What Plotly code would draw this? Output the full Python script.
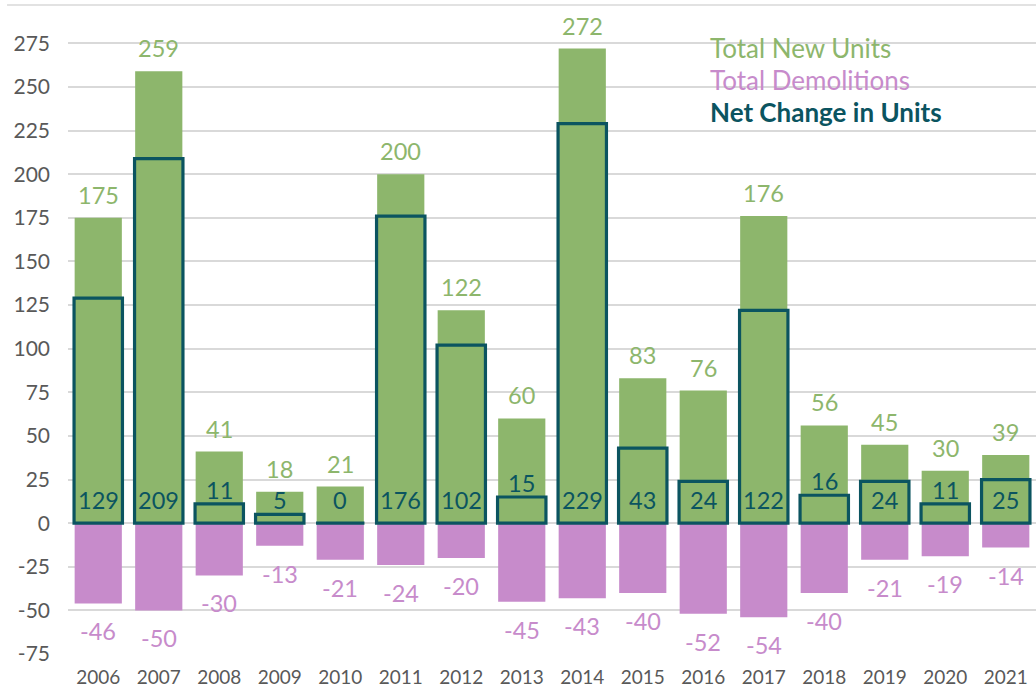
import plotly.graph_objects as go

years = [str(y) for y in range(2006, 2022)]
new_units = [175, 259, 41, 18, 21, 200, 122, 60, 272, 83, 76, 176, 56, 45, 30, 39]
demolitions = [-46, -50, -30, -13, -21, -24, -20, -45, -43, -40, -52, -54, -40, -21, -19, -14]
net_change = [129, 209, 11, 5, 0, 176, 102, 15, 229, 43, 24, 122, 16, 24, 11, 25]
y_ticks = [-75, -50, -25, 0, 25, 50, 75, 100, 125, 150, 175, 200, 225, 250, 275]
y_tick_labels = ["-75", "-50", "-25", "0", "25", "50", "75", "100", "125", "150", "175",
                 "200", "225", "250", "275"]

GREEN = "#8DB66C"
PINK = "#C78BCB"
TEAL = "#0B5460"
GREY = "#595959"
FONT = "Lato"
LABEL_SIZE = 23.5

fig = go.Figure()
fig.add_trace(go.Bar(x=years, y=new_units, marker=dict(color=GREEN, line=dict(width=0)),
                     width=0.78, name="Total New Units"))
fig.add_trace(go.Bar(x=years, y=demolitions, marker=dict(color=PINK, line=dict(width=0)),
                     width=0.78, name="Total Demolitions"))
fig.add_trace(go.Bar(x=years, y=net_change,
                     marker=dict(color="rgba(0,0,0,0)", line=dict(color=TEAL, width=3.2)),
                     width=0.8, name="Net Change in Units"))

ann = []
for i, v in enumerate(new_units):
    ann.append(dict(x=i, y=v, text=str(v), showarrow=False, yshift=23,
                    font=dict(family=FONT, size=LABEL_SIZE, color=GREEN)))
for i, v in enumerate(demolitions):
    ann.append(dict(x=i, y=v, text=str(v), showarrow=False, yshift=-28,
                    font=dict(family=FONT, size=LABEL_SIZE, color=PINK)))
for i, v in enumerate(net_change):
    ypos = v + 8 if 10 <= v <= 18 else 13
    ann.append(dict(x=i, y=ypos, text=str(v), showarrow=False,
                    font=dict(family=FONT, size=LABEL_SIZE, color=TEAL)))

legend_items = [("Total New Units", GREEN, False), ("Total Demolitions", PINK, False),
                ("Net Change in Units", TEAL, True)]
for i, (txt, col, bold) in enumerate(legend_items):
    ann.append(dict(xref="paper", yref="paper", x=(708 - 68) / 968, y=1 - (43 + 32 * i) / 649,
                    xanchor="left", yanchor="middle", showarrow=False,
                    text=f"<b>{txt}</b>" if bold else txt,
                    font=dict(family=FONT, size=26, color=col)))

fig.update_layout(
    width=1036, height=692,
    margin=dict(l=68, r=0, t=5, b=38),
    barmode="overlay",
    showlegend=False,
    plot_bgcolor="white", paper_bgcolor="white",
    font=dict(family=FONT, color=GREY),
    annotations=ann,
    shapes=[dict(type="line", xref="paper", yref="paper", x0=-0.063, x1=1, y0=1, y1=1,
                 line=dict(color="#D9D9D9", width=1.5), layer="below")],
)
fig.update_xaxes(type="category", range=[-0.5, len(years) - 0.5], showgrid=False, showline=False,
                 tickfont=dict(family=FONT, size=19, color=GREY), ticks="", fixedrange=True,
                 ticklabelstandoff=10)
fig.update_yaxes(range=[-75, 297], tickvals=y_ticks, ticktext=y_tick_labels, showgrid=True,
                 gridcolor="#D9D9D9", gridwidth=1.5, zeroline=True, zerolinecolor="#D9D9D9",
                 zerolinewidth=1.5, tickfont=dict(family=FONT, size=21, color=GREY),
                 ticklabelstandoff=17, showline=False, ticks="")

fig.write_html("out.html", config={"displayModeBar": False},
               post_script="document.body.style.margin='0';document.body.style.overflow='hidden';")
